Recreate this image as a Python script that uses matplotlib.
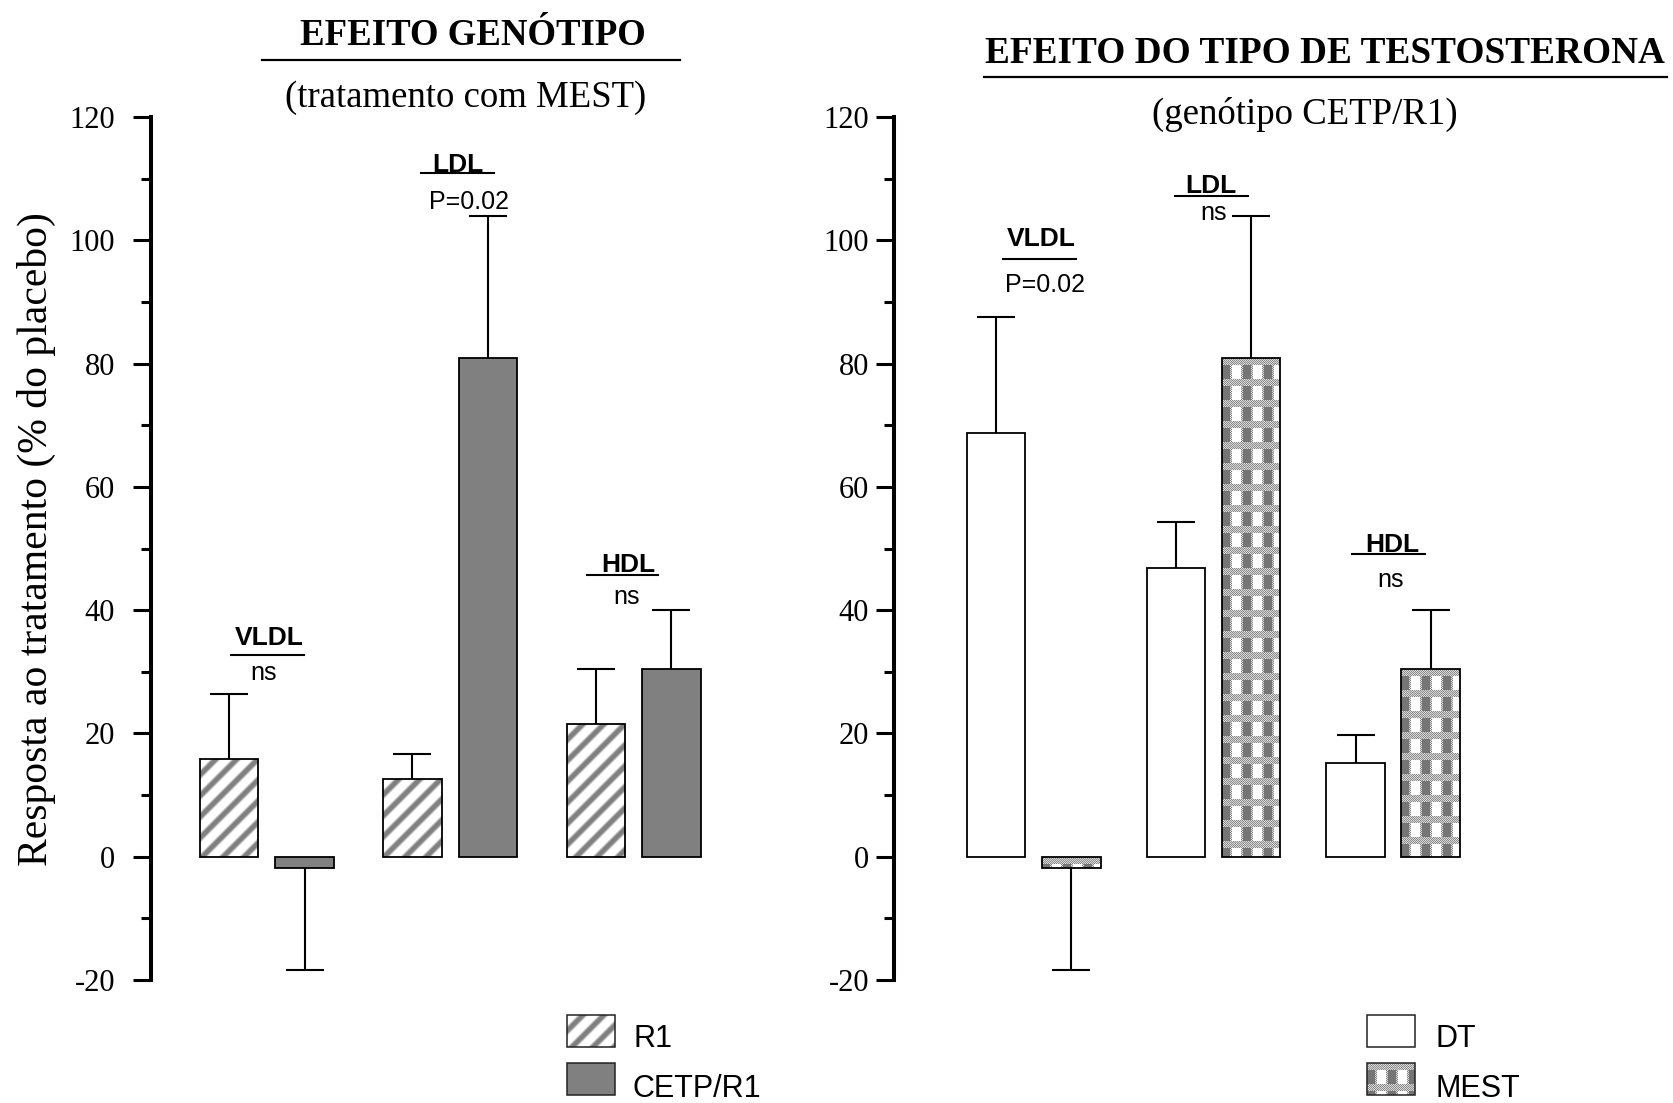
import numpy as np
import matplotlib
matplotlib.use("Agg")
import matplotlib.pyplot as plt
from matplotlib.patches import Rectangle
from matplotlib.lines import Line2D
from matplotlib.ticker import AutoMinorLocator

# ---------------------------------------------------------------- data
lipids = ["VLDL", "LDL", "HDL"]

# Efeito genótipo (tratamento com MEST): R1 vs CETP/R1
geno_r1_mean = [15.9, 12.6, 21.6]
geno_r1_sem = [10.5, 4.1, 8.8]
geno_cetp_mean = [-1.8, 80.9, 30.5]
geno_cetp_sem = [16.5, 23.1, 9.5]
geno_pvalues = ["ns", "P=0.02", "ns"]

# Efeito do tipo de testosterona (genótipo CETP/R1): DT vs MEST
testo_dt_mean = [68.7, 46.9, 15.2]
testo_dt_sem = [18.8, 7.4, 4.5]
testo_mest_mean = [-1.8, 80.9, 30.5]
testo_mest_sem = [16.5, 23.1, 9.5]
testo_pvalues = ["P=0.02", "ns", "ns"]

yticks = [-20, 0, 20, 40, 60, 80, 100, 120]
ytick_labels = ["-20", "0", "20", "40", "60", "80", "100", "120"]

# ---------------------------------------------------------------- figure
W, H, DPI = 1673, 1103, 100
plt.rcParams["axes.unicode_minus"] = False

SERIF = "Liberation Serif"
SANS = "Liberation Sans"

fig = plt.figure(figsize=(W / DPI, H / DPI), dpi=DPI)
fig.patch.set_facecolor("white")


def fx(px):
    return px / W


def fy(py):
    return 1.0 - py / H


Y_BOTTOM_PX, Y_TOP_PX = 980, 117   # pixel rows of y=-20 and y=120
GRAY = "#808080"


def mest_texture(h, w):
    """Checked texture: bands of fine dither separating rows of dark and white blocks."""
    r = np.arange(h)[:, None]
    c = np.arange(w)[None, :]
    img = np.where((r + c) % 2 == 0, 0.55, 0.85).astype(float)
    rr = r % 21
    cc = c % 21
    block_row = rr >= 7
    img = np.where(block_row & (cc < 8), 0.46, img)
    img = np.where(block_row & (cc >= 10) & (cc < 19), 1.0, img)
    return np.dstack([img, img, img])


def stripe_texture(h, w, period=21):
    """Soft gray diagonal stripes rising to the right."""
    r = np.arange(h)[:, None]
    c = np.arange(w)[None, :]
    s = (c + r + 6) % period
    d = np.minimum(s, period - s) / np.sqrt(2.0)
    t = np.clip((d - 1.2) / 3.2, 0.0, 1.0)
    t = t * t * (3 - 2 * t)
    img = 0.50 + 0.50 * t
    return np.dstack([img, img, img])


def texture_fill(bbox_px, maker):
    x0, y0, x1, y1 = (int(round(v)) for v in bbox_px)
    if x1 - x0 < 1 or y1 - y0 < 1:
        return
    fig.figimage(maker(y1 - y0, x1 - x0), xo=x0, yo=y0,
                 origin="upper", zorder=0.5)


def fill_bars(bars, maker):
    for patch in bars.patches:
        bb = patch.get_window_extent()
        texture_fill((bb.x0, bb.y0, bb.x1, bb.y1), maker)


def make_axes(spine_px, right_px, xlim, label_pad):
    ax = fig.add_axes([fx(spine_px), fy(Y_BOTTOM_PX),
                       (right_px - spine_px) / W, (Y_BOTTOM_PX - Y_TOP_PX) / H])
    ax.set_zorder(1)
    ax.patch.set_visible(False)
    ax.set_xlim(*xlim)
    ax.set_ylim(-20, 120)
    for side in ("top", "right", "bottom"):
        ax.spines[side].set_visible(False)
    ax.spines["left"].set_linewidth(2.9)
    ax.set_xticks([])
    ax.set_yticks(yticks)
    ax.set_yticklabels(ytick_labels, fontfamily=SERIF, fontsize=22)
    ax.yaxis.set_minor_locator(AutoMinorLocator(2))
    ax.tick_params(axis="y", which="major", length=13, width=2.2,
                   direction="out", pad=label_pad)
    ax.tick_params(axis="y", which="minor", length=7, width=2.2, direction="out")
    return ax


def draw_errors(ax, xs, means, sems):
    means = np.asarray(means, dtype=float)
    sems = np.asarray(sems, dtype=float)
    up = np.where(means >= 0, sems, 0.0)
    down = np.where(means < 0, sems, 0.0)
    ax.errorbar(xs, means, yerr=[down, up], fmt="none", ecolor="black",
                elinewidth=1.5, capsize=0, zorder=3)
    tips = means + up - down
    ax.plot(xs, tips, ls="none", marker="_", ms=28, mew=1.5,
            color="black", zorder=3)


def annotate(items):
    # items: (lipid, pvalue, label_x, label_base, rule_y, rule_x0, rule_x1, p_x, p_base)
    for name, pv, lx, lb, ry, rx0, rx1, px_, pb in items:
        fig.text(fx(lx), fy(lb), name, ha="center", va="baseline",
                 fontfamily=SANS, fontweight="bold", fontsize=19)
        fig.add_artist(Line2D([fx(rx0), fx(rx1)], [fy(ry), fy(ry)],
                              transform=fig.transFigure, color="black", lw=1.5))
        fig.text(fx(px_), fy(pb), pv, ha="center", va="baseline",
                 fontfamily=SANS, fontsize=18)


groups = np.arange(len(lipids))

# ---------------------------------------------------------------- left panel
axL = make_axes(151, 760, (-0.632, 2.690), 13)
wL, oL = 0.319, 0.206
xL1, xL2 = groups - oL, groups + oL
r1_bars = axL.bar(xL1, geno_r1_mean, wL, fill=False, edgecolor="black",
                  linewidth=1.3, zorder=2.5)
axL.bar(xL2, geno_cetp_mean, wL, color=GRAY, edgecolor="black",
        linewidth=1.3, zorder=2)
draw_errors(axL, xL1, geno_r1_mean, geno_r1_sem)
draw_errors(axL, xL2, geno_cetp_mean, geno_cetp_sem)
fill_bars(r1_bars, stripe_texture)

annotate([
    (lipids[0], geno_pvalues[0], 269, 645, 655, 231, 304, 264, 680),
    (lipids[1], geno_pvalues[1], 458, 171.5, 173, 421, 494, 469, 209),
    (lipids[2], geno_pvalues[2], 628, 571.5, 575, 587, 658, 627, 604.5),
])

# ---------------------------------------------------------------- right panel
axR = make_axes(894, 1520, (-0.777, 2.706), 5)
wR, oR = 0.326, 0.209
xR1, xR2 = groups - oR, groups + oR
axR.bar(xR1, testo_dt_mean, wR, color="white", edgecolor="black",
        linewidth=1.3, zorder=2)
mest_bars = axR.bar(xR2, testo_mest_mean, wR, fill=False, edgecolor="black",
                    linewidth=1.3, zorder=2.5)
draw_errors(axR, xR1, testo_dt_mean, testo_dt_sem)
draw_errors(axR, xR2, testo_mest_mean, testo_mest_sem)
fill_bars(mest_bars, mest_texture)

annotate([
    (lipids[0], testo_pvalues[0], 1041, 246.5, 259, 1003, 1076, 1045, 291.5),
    (lipids[1], testo_pvalues[1], 1211, 193, 196, 1175, 1248, 1214, 220),
    (lipids[2], testo_pvalues[2], 1392, 551.5, 554, 1352, 1425, 1391, 587),
])

# ---------------------------------------------------------------- titles
fig.text(fx(473), fy(45), "EFEITO GENÓTIPO", ha="center", va="baseline",
         fontfamily=SERIF, fontweight="bold", fontsize=26.5)
fig.add_artist(Line2D([fx(262), fx(680)], [fy(60), fy(60)],
                      transform=fig.transFigure, color="black", lw=1.6))
fig.text(fx(466), fy(107), "(tratamento com MEST)", ha="center", va="baseline",
         fontfamily=SERIF, fontsize=26.5)

fig.text(fx(1325), fy(63), "EFEITO DO TIPO DE TESTOSTERONA", ha="center",
         va="baseline", fontfamily=SERIF, fontweight="bold", fontsize=26.8)
fig.add_artist(Line2D([fx(984), fx(1667)], [fy(77), fy(77)],
                      transform=fig.transFigure, color="black", lw=1.6))
fig.text(fx(1305), fy(124), "(genótipo CETP/R1)", ha="center", va="baseline",
         fontfamily=SERIF, fontsize=26.5)

fig.text(fx(36), fy(539), "Resposta ao tratamento (% do placebo)",
         rotation=90, ha="center", va="center", fontfamily=SERIF, fontsize=30)

# ---------------------------------------------------------------- legends
def swatch_rect(x0, y0, x1, y1, **kw):
    fig.add_artist(Rectangle((fx(x0), fy(y1)), (x1 - x0) / W, (y1 - y0) / H,
                             transform=fig.transFigure, **kw))


# R1 / CETP-R1
texture_fill((567, H - 1047, 615, H - 1015), stripe_texture)
swatch_rect(567, 1015, 615, 1047, fill=False, edgecolor="#222222",
            linewidth=1.1, zorder=2)
swatch_rect(567, 1063, 615, 1095, facecolor=GRAY, edgecolor="#222222",
            linewidth=1.1, zorder=2)
fig.text(fx(633), fy(1047), "R1", ha="left", va="baseline",
         fontfamily=SANS, fontsize=22)
fig.text(fx(633), fy(1097), "CETP/R1", ha="left", va="baseline",
         fontfamily=SANS, fontsize=22)

# DT / MEST
swatch_rect(1367, 1015, 1415, 1047, facecolor="white", edgecolor="#222222",
            linewidth=1.1, zorder=2)
texture_fill((1367, H - 1095, 1415, H - 1063), mest_texture)
swatch_rect(1367, 1063, 1415, 1095, fill=False, edgecolor="#222222",
            linewidth=1.1, zorder=2)
fig.text(fx(1435), fy(1047), "DT", ha="left", va="baseline",
         fontfamily=SANS, fontsize=22)
fig.text(fx(1435), fy(1097), "MEST", ha="left", va="baseline",
         fontfamily=SANS, fontsize=22)

fig.savefig("out.png", dpi=DPI, facecolor="white")
